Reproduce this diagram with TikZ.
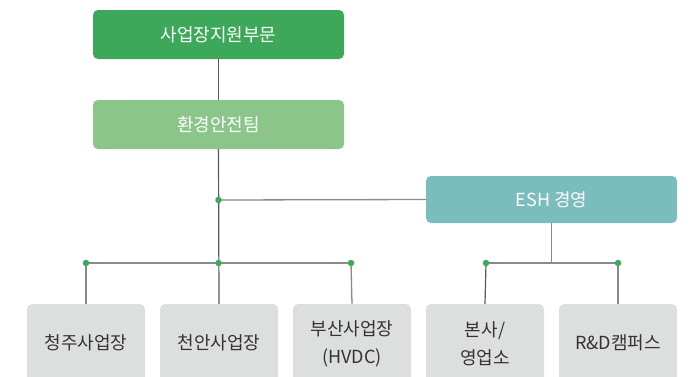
\documentclass[tikz,border=0pt]{standalone}
\usepackage{fontspec}
\setmainfont{Noto Sans CJK KR}
\definecolor{gDark}{HTML}{3DA85A}
\definecolor{gLight}{HTML}{8BC589}
\definecolor{teal}{HTML}{7BBCBD}
\definecolor{boxgray}{HTML}{DDDEDE}
\definecolor{linegray}{HTML}{8A8A8A}
\definecolor{dotgreen}{HTML}{3DAA5A}
\definecolor{txt}{HTML}{333333}
\begin{document}
\begin{tikzpicture}[x=1pt,y=-1pt,
  lbl/.style={inner sep=0pt, font=\fontsize{18}{19}\selectfont},
  wlbl/.style={lbl, text=white},
  blbl/.style={lbl, text=txt, align=center, font=\fontsize{18}{28}\selectfont},
  conn/.style={draw=linegray, line width=1.3pt},
  dconn/.style={draw=black!65, line width=1.2pt},
  dot/.style={circle, fill=dotgreen, inner sep=0pt, minimum size=6.5pt}]
\useasboundingbox (0,0) rectangle (690,376);
\begin{scope}
\clip (0,0) rectangle (690,376);
% boxes
\fill[gDark, rounded corners=5pt] (93,10) rectangle (344,59);
\node[wlbl] (t1) at (218.5,34.5) {사업장지원부문};
\fill[gLight, rounded corners=5pt] (93,100) rectangle (344,149);
\node[wlbl] (t2) at (218.5,124.5) {환경안전팀};
\fill[teal, rounded corners=5pt] (426,176) rectangle (677,223);
\node[wlbl] (esh) at (551.5,199.5) {ESH 경영};
\coordinate (eshL) at (426,199.5);
\coordinate (eshB) at (551.5,223);
\coordinate (t1B) at (218.5,59);
\coordinate (t2T) at (218.5,100);
\coordinate (t2B) at (218.5,149);
\foreach \n/\x in {b1/27,b2/160,b3/293,b4/426,b5/559}{
  \fill[boxgray, rounded corners=5pt] (\x,304) rectangle ({\x+118},400);
  \coordinate (\n T) at ({\x+59},304);
}
\node[blbl] (n1) at (86,343) {청주사업장};
\node[blbl] (n2) at (219,343) {천안사업장};
\node[blbl] (n3) at (352,344) {부산사업장\\(HVDC)};
\node[blbl] (n4) at (485,344) {본사/\\영업소};
\node[blbl] (n5) at (618,343) {R\&D캠퍼스};
% junction coordinates
\coordinate (j0) at (218.5,200);
\coordinate (j1) at (86,263);
\coordinate (j2) at (218.5,263);
\coordinate (j3) at (351,263);
\coordinate (j4) at (486,263);
\coordinate (j5) at (551.5,263);
\coordinate (j6) at (618,263);
% connectors
\draw[dconn] (t1B) -- (t2T);
\draw[dconn] (t2B) -- (b2T);
\draw[conn] (j0) -- (eshL);
\draw[conn] (j1) -- (j3);
\draw[conn] (j4) -- (j6);
\draw[conn] (eshB) -- (j5);
\draw[conn] (j1) -- (b1T);
\draw[conn] (j3) -- (b3T);
\draw[dconn] (j4) -- (b4T);
\draw[conn] (j6) -- (b5T);
\foreach \j in {j0,j1,j2,j3,j4,j6} \node[dot] at (\j) {};
\end{scope}
\end{tikzpicture}
\end{document}
